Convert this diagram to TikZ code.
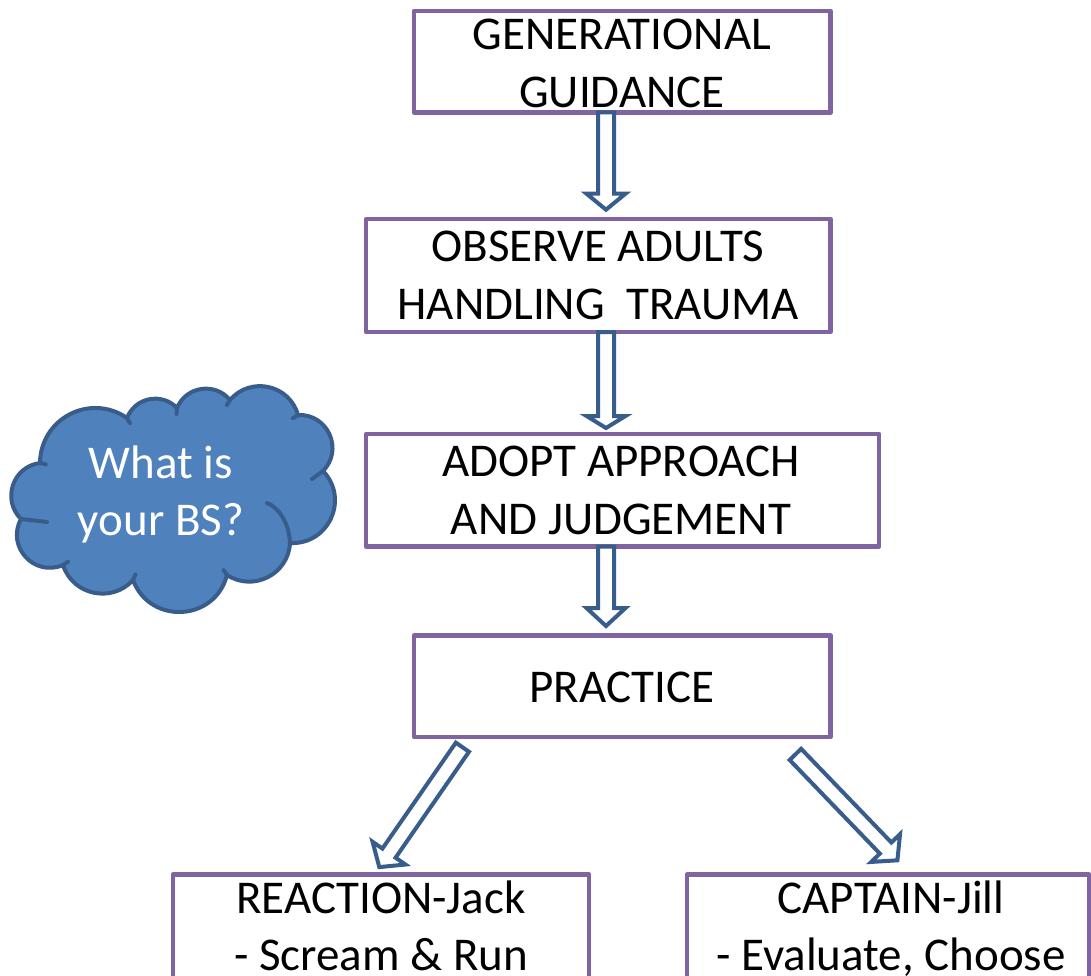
\documentclass[tikz,border=0pt]{standalone}
\usepackage{fontspec}
\setmainfont{Carlito}
\usetikzlibrary{calc}
\definecolor{boxpurple}{HTML}{8064A2}
\definecolor{arrowblue}{HTML}{385D8A}
\definecolor{cloudfill}{HTML}{4F81BD}
\tikzset{
  box/.style={draw=boxpurple, line width=4.5pt, rectangle, inner sep=0pt, outer sep=0pt, line join=round},
  lbl/.style={align=center, font=\fontsize{47}{57.5}\selectfont, inner sep=0pt, outer sep=0pt},
  blockarrow/.style={draw=arrowblue, fill=white, line width=4pt, line join=miter},
  cloudbody/.style={draw=arrowblue, fill=cloudfill, line width=4pt, line join=round},
  cloudline/.style={draw=arrowblue, line width=4pt, line cap=round}
}
% #1 tail, #2 tip, #3 shaft half width, #4 head half width, #5 head length
\newcommand\hollowarrow[5]{%
  \draw[blockarrow]
    ($(#1)!#3!90:(#2)$) --
    ($(#2)!#5!(#1)!#3!-90:(#1)$) --
    ($(#2)!#5!(#1)!#4!-90:(#1)$) --
    (#2) --
    ($(#2)!#5!(#1)!#4!90:(#1)$) --
    ($(#2)!#5!(#1)!#3!90:(#1)$) --
    ($(#1)!#3!-90:(#2)$) -- cycle;}
% cloud lobe: circular-like arc from #1 to #2, control factor #3, tangent angle #4
\newcommand\lobe[4]{.. controls ($(#1)!#3!#4:(#2)$) and ($(#2)!#3!-#4:(#1)$) .. (#2)}
\begin{document}
\begin{tikzpicture}[x=1pt,y=-1pt]
\clip (0,0) rectangle (1091,976);
\fill[white] (0,0) rectangle (1091,976);

% boxes
\node[box, minimum width=416.5pt, minimum height=101.7pt] (b1) at (622.25,61.65) {};
\node[box, minimum width=464.5pt, minimum height=113pt] (b2) at (598.25,275.5) {};
\node[box, minimum width=513pt, minimum height=112.5pt] (b3) at (622.5,490.25) {};
\node[box, minimum width=416.5pt, minimum height=101.5pt] (b4) at (622.25,686.25) {};
\node[box, minimum width=416pt, minimum height=140pt] (b5) at (381,944.7) {};
\node[box, minimum width=402pt, minimum height=140pt] (b6) at (888,944.7) {};

% texts
\node[lbl] (t1) at (622,63.5) {GENERATIONAL\\GUIDANCE};
\node[lbl] (t2) at (598,275.5) {OBSERVE ADULTS\\HANDLING\ \ TRAUMA};
\node[lbl] (t3) at (621,490.5) {ADOPT APPROACH\\AND JUDGEMENT};
\node[lbl] (t4) at (622,687.5) {PRACTICE};
\node[lbl] (t5) at (381,926) {REACTION-Jack\\- Scream \& Run};
\node[lbl] (t6) at (891,928.5) {CAPTAIN-Jill\\- Evaluate, Choose};

% arrow end points
\coordinate (a1s) at ([xshift=-16.25pt]b1.south);
\coordinate (a1e) at ([xshift=7.75pt,yshift=9.3pt]b2.north);
\coordinate (a2s) at ([xshift=7.75pt]b2.south);
\coordinate (a2e) at ([xshift=-16.5pt,yshift=6pt]b3.north);
\coordinate (a3s) at ([xshift=-16.5pt]b3.south);
\coordinate (a3e) at ([xshift=-16.25pt,yshift=9.5pt]b4.north);
\coordinate (a4s) at ([xshift=-159.85pt,yshift=-10.2pt]b4.south);
\coordinate (a4e) at ([xshift=-1.7pt,yshift=7.6pt]b5.north);
\coordinate (a5s) at ([xshift=173.15pt,yshift=-17.4pt]b4.south);
\coordinate (a5e) at ([xshift=9.4pt,yshift=14.4pt]b6.north);

\hollowarrow{a1s}{a1e}{8pt}{19.5pt}{16pt}
\hollowarrow{a2s}{a2e}{8pt}{19.5pt}{12pt}
\hollowarrow{a3s}{a3e}{8pt}{19.5pt}{18pt}
\hollowarrow{a4s}{a4e}{8pt}{20pt}{17pt}
\hollowarrow{a5s}{a5e}{8pt}{20pt}{17pt}

% cloud
\coordinate (cc) at (170,495);
\coordinate (J1) at (40,463);
\coordinate (J2) at (127,418);
\coordinate (J3) at (177,408);
\coordinate (J4) at (230,400);
\coordinate (J5) at (298,415);
\coordinate (J6) at (323,471);
\coordinate (J7) at (290,543);
\coordinate (J8) at (227,575);
\coordinate (J9) at (133,580);
\coordinate (J10) at (63,565);
\coordinate (J11) at (21,519);
\draw[cloudbody] (J1) \lobe{J1}{J2}{0.456}{62} \lobe{J2}{J3}{0.434}{57.5}
  \lobe{J3}{J4}{0.44}{59} \lobe{J4}{J5}{0.454}{62} \lobe{J5}{J6}{0.488}{68.5}
  \lobe{J6}{J7}{0.488}{68.5} \lobe{J7}{J8}{0.444}{60} \lobe{J8}{J9}{0.512}{72.5}
  \lobe{J9}{J10}{0.444}{60} \lobe{J10}{J11}{0.503}{71} \lobe{J11}{J1}{0.464}{64} -- cycle;
\draw[cloudline] (J11) -- (47,522);
\draw[cloudline] (J6) -- (312,479);
\draw[cloudline] (267,503) .. controls (278,507) and (289,522) .. (J7);
\foreach \j in {J1,J2,J3,J4,J5,J8,J9,J10}
  \draw[cloudline] (\j) -- ($(\j)!6pt!(cc)$);
\node[lbl, text=white] (cq) at (161,494.7) {What is\\your BS?};
\end{tikzpicture}
\end{document}
